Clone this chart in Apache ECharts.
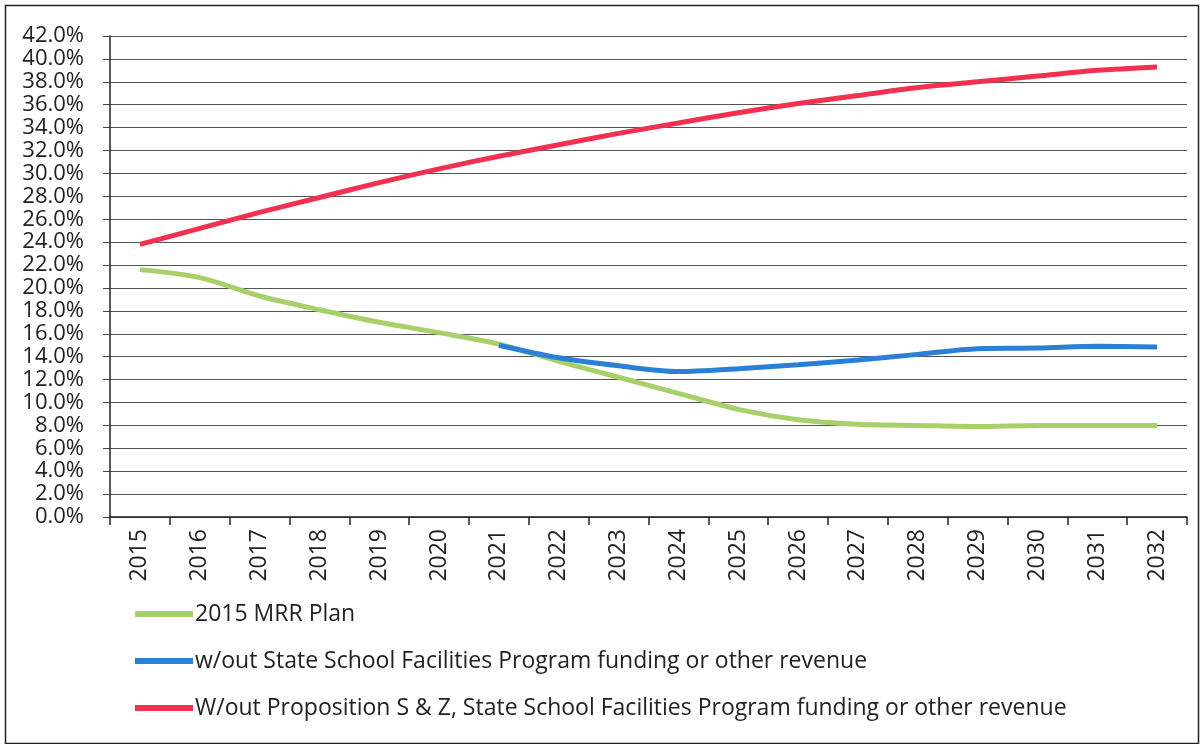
<!DOCTYPE html>
<html>
<head>
<meta charset="utf-8">
<script src="https://cdn.jsdelivr.net/npm/echarts@6/dist/echarts.min.js"></script>
<style>html,body{margin:0;padding:0;background:#fff}#c{width:1200px;height:744px}</style>
</head>
<body>
<div id="c"></div>
<script>
const years = ['2015','2016','2017','2018','2019','2020','2021','2022','2023','2024','2025','2026','2027','2028','2029','2030','2031','2032'];
const mrrPlan = [21.6,20.9,19.3,18.1,17.0,16.1,15.1,13.6,12.2,10.8,9.4,8.5,8.1,8.0,7.9,8.0,8.0,8.0];
const withoutState = [null,null,null,null,null,null,15.0,13.9,13.2,12.7,12.95,13.3,13.7,14.2,14.7,14.75,14.9,14.85];
const withoutProp = [23.8,25.2,26.6,27.9,29.2,30.4,31.5,32.5,33.5,34.4,35.3,36.1,36.8,37.5,38.0,38.5,39.0,39.3];
const seriesNames = ['2015 MRR Plan','w/out State School Facilities Program funding or other revenue','W/out Proposition S & Z, State School Facilities Program funding or other revenue'];

const font = 'Open Sans';
const chart = echarts.init(document.getElementById('c'));
chart.setOption({
  animation: false,
  backgroundColor: '#fff',
  textStyle: {fontFamily: font},
  graphic: [{type:'rect', left: 3, top: 3, shape:{width:1193, height:738}, style:{fill:'none', stroke:'#222', lineWidth:1.5}, silent:true}],
  grid: {left: 110, right: 13, top: 36, bottom: 227},
  legend: {
    orient: 'vertical', left: 130, top: 597, itemGap: 23, itemWidth: 58, itemHeight: 6,
    icon: 'rect',
    textStyle: {fontSize: 23, lineHeight: 24, color: '#222', fontFamily: font, padding: [0,0,0,-3]},
    data: seriesNames
  },
  xAxis: {
    type: 'category', data: years, boundaryGap: true,
    axisLine: {lineStyle: {color: '#222', width: 1.5}},
    axisTick: {show: true, length: 8, lineStyle: {color: '#222', width: 1.5}, alignWithLabel: false},
    axisLabel: {rotate: 90, fontSize: 23, color: '#222', margin: 12, fontFamily: font, interval: 0}
  },
  yAxis: {
    type: 'value', min: 0, max: 42, interval: 2,
    axisLine: {show: true, lineStyle: {color: '#222', width: 1.5}},
    axisTick: {show: true, length: 7, lineStyle: {color: '#444'}},
    axisLabel: {fontSize: 22, color: '#222', margin: 26, fontFamily: font, formatter: v => v.toFixed(1) + '%'},
    splitLine: {show: true, lineStyle: {color: '#555', width: 1.2}}
  },
  series: [
    {name: seriesNames[0], type: 'line', data: mrrPlan, smooth: 0.3, showSymbol: false, lineStyle: {color: '#a8d06a', width: 5}, itemStyle: {color: '#a8d06a'}, z: 2},
    {name: seriesNames[1], type: 'line', data: withoutState, smooth: 0.3, showSymbol: false, connectNulls: false, lineStyle: {color: '#2b80d6', width: 5}, itemStyle: {color: '#2b80d6'}, z: 3},
    {name: seriesNames[2], type: 'line', data: withoutProp, smooth: 0.3, showSymbol: false, lineStyle: {color: '#f2304f', width: 5}, itemStyle: {color: '#f2304f'}, z: 4}
  ]
});
</script>
</body>
</html>
